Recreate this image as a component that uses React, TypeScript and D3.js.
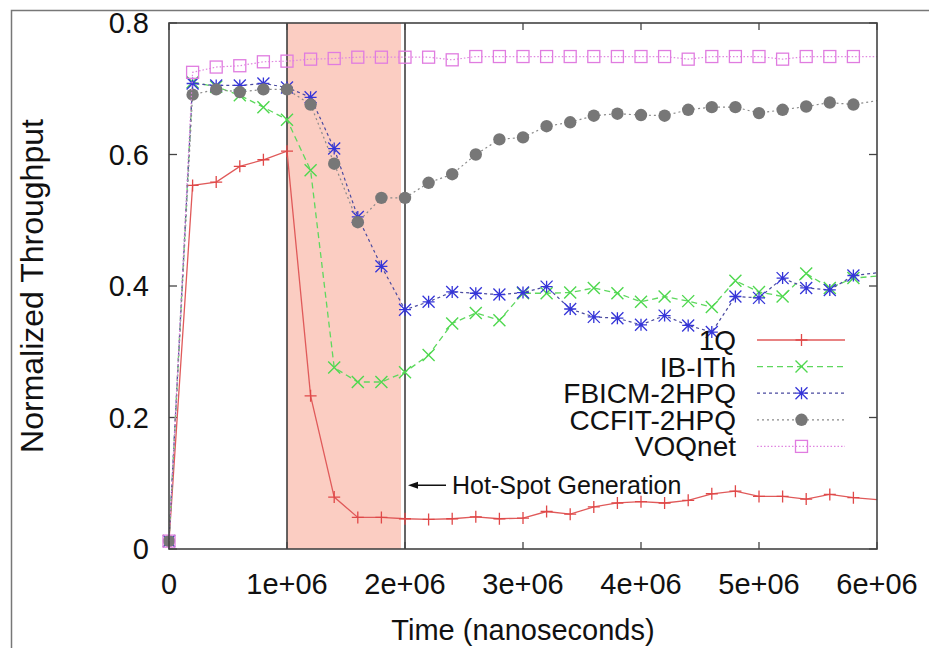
import React from 'react';
import * as d3 from 'd3';

// time axis (ns), one sample every 2e5 ns
const times = [0, 2e5, 4e5, 6e5, 8e5, 1e6, 1.2e6, 1.4e6, 1.6e6, 1.8e6, 2e6, 2.2e6, 2.4e6, 2.6e6, 2.8e6, 3e6,
  3.2e6, 3.4e6, 3.6e6, 3.8e6, 4e6, 4.2e6, 4.4e6, 4.6e6, 4.8e6, 5e6, 5.2e6, 5.4e6, 5.6e6, 5.8e6, 6e6];

const q1 = [0.012, 0.553, 0.558, 0.582, 0.592, 0.605, 0.233, 0.079, 0.048, 0.048, 0.046, 0.045, 0.046, 0.049, 0.046, 0.047,
  0.057, 0.053, 0.064, 0.070, 0.072, 0.070, 0.074, 0.084, 0.088, 0.080, 0.080, 0.076, 0.083, 0.078, 0.075];
const ibith = [0.012, 0.710, 0.703, 0.690, 0.672, 0.653, 0.576, 0.276, 0.254, 0.254, 0.269, 0.295, 0.343, 0.359, 0.348, 0.389,
  0.389, 0.390, 0.397, 0.389, 0.376, 0.384, 0.377, 0.368, 0.408, 0.391, 0.384, 0.419, 0.397, 0.412, 0.415];
const fbicm = [0.012, 0.708, 0.705, 0.705, 0.708, 0.702, 0.687, 0.609, 0.505, 0.430, 0.364, 0.376, 0.391, 0.389, 0.387, 0.390,
  0.399, 0.365, 0.353, 0.351, 0.341, 0.355, 0.340, 0.330, 0.384, 0.382, 0.412, 0.397, 0.394, 0.416, 0.420];
const ccfit = [0.012, 0.691, 0.699, 0.695, 0.699, 0.699, 0.676, 0.586, 0.497, 0.534, 0.534, 0.557, 0.570, 0.600, 0.623, 0.626,
  0.643, 0.649, 0.659, 0.662, 0.660, 0.659, 0.668, 0.672, 0.672, 0.663, 0.668, 0.673, 0.679, 0.676, 0.682];
const voqnet = [0.012, 0.725, 0.733, 0.735, 0.741, 0.742, 0.745, 0.746, 0.748, 0.748, 0.748, 0.748, 0.744, 0.749, 0.749, 0.749,
  0.749, 0.749, 0.749, 0.749, 0.749, 0.749, 0.745, 0.749, 0.749, 0.749, 0.745, 0.749, 0.749, 0.749, 0.749];

const seriesNames = ['1Q', 'IB-ITh', 'FBICM-2HPQ', 'CCFIT-2HPQ', 'VOQnet'];
const seriesValues = [q1, ibith, fbicm, ccfit, voqnet];

const xTicks = [0, 1e6, 2e6, 3e6, 4e6, 5e6, 6e6];
const xTickLabels = ['0', '1e+06', '2e+06', '3e+06', '4e+06', '5e+06', '6e+06'];
const yTicks = [0, 0.2, 0.4, 0.6, 0.8];
const yTickLabels = ['0', '0.2', '0.4', '0.6', '0.8'];

const hotSpot = [1e6, 2e6];
const annotationY = 0.097;

const styles = [
  { color: '#e05a5a', dash: null, width: 1.3, marker: 'plus', markerColor: '#e04848' },
  { color: '#5ed85e', dash: '6,4', width: 1.3, marker: 'x', markerColor: '#4fd84f' },
  { color: '#4a4aa0', dash: '3,3', width: 1.2, marker: 'star', markerColor: '#3535d8' },
  { color: '#8a8a8a', dash: '2,3', width: 1.2, marker: 'circle', markerColor: '#777777' },
  { color: '#e086e0', dash: '1.5,2', width: 1.2, marker: 'square', markerColor: '#e07ce0' },
];

const W = 929;
const H = 648;
const left = 169, right = 877, top = 23, bottom = 549;
const FONT = "'Liberation Sans', Arial, sans-serif";

function Marker({ type, x, y, color }) {
  const s = 6;
  if (type === 'plus') {
    return <path d={`M${x - s},${y}H${x + s}M${x},${y - s}V${y + s}`} stroke={color} strokeWidth={1.3} fill="none" />;
  }
  if (type === 'x') {
    return <path d={`M${x - s},${y - s}L${x + s},${y + s}M${x - s},${y + s}L${x + s},${y - s}`} stroke={color} strokeWidth={1.4} fill="none" />;
  }
  if (type === 'star') {
    return <path d={`M${x - s},${y}H${x + s}M${x},${y - s}V${y + s}M${x - s},${y - s}L${x + s},${y + s}M${x - s},${y + s}L${x + s},${y - s}`} stroke={color} strokeWidth={1.3} fill="none" />;
  }
  if (type === 'circle') {
    return <circle cx={x} cy={y} r={6.2} fill={color} />;
  }
  return <rect x={x - s} y={y - s} width={2 * s} height={2 * s} fill="none" stroke={color} strokeWidth={1.3} />;
}

export default function App() {
  const xScale = d3.scaleLinear().domain([0, 6e6]).range([left, right]);
  const yScale = d3.scaleLinear().domain([0, 0.8]).range([bottom, top]);

  const line = d3.line<number>()
    .x((_, i) => xScale(times[i]))
    .y((d) => yScale(d));

  const legendX = 736;
  const legendY0 = 340;
  const legendStep = 26.6;
  const annY = yScale(annotationY);
  const arrowHead = xScale(hotSpot[1]) + 3;

  return (
    <svg width={W} height={H} style={{ position: 'absolute', left: 0, top: 0, background: '#fff' }} fontFamily={FONT}>
      {/* outer frame */}
      <path d={`M11.5,${H}V10.5H${W}`} stroke="#777" strokeWidth={1.5} fill="none" />

      {/* hot-spot window */}
      <rect x={xScale(hotSpot[0])} y={top} width={xScale(hotSpot[1]) - xScale(hotSpot[0]) - 4} height={bottom - top} fill="#fbcdc2" />
      {hotSpot.map((t) => (
        <line key={t} x1={xScale(t)} x2={xScale(t)} y1={top} y2={bottom} stroke="#333" strokeWidth={1.5} />
      ))}

      {/* ticks (mirrored) */}
      {xTicks.map((t) => (
        <g key={'xt' + t}>
          <line x1={xScale(t)} x2={xScale(t)} y1={bottom} y2={bottom - 7} stroke="#444" strokeWidth={1.3} />
          <line x1={xScale(t)} x2={xScale(t)} y1={top} y2={top + 7} stroke="#444" strokeWidth={1.3} />
        </g>
      ))}
      {yTicks.map((t) => (
        <g key={'yt' + t}>
          <line x1={left} x2={left + 8} y1={yScale(t)} y2={yScale(t)} stroke="#444" strokeWidth={1.3} />
          <line x1={right} x2={right - 8} y1={yScale(t)} y2={yScale(t)} stroke="#444" strokeWidth={1.3} />
        </g>
      ))}

      {/* series */}
      <defs>
        <clipPath id="plotClip">
          <rect x={left} y={top} width={right - left} height={bottom - top} />
        </clipPath>
      </defs>
      <g>
        {seriesValues.map((vals, si) => {
          const st = styles[si];
          return (
            <g key={seriesNames[si]}>
              <path d={line(vals) || ''} fill="none" stroke={st.color} strokeWidth={st.width}
                strokeDasharray={st.dash || undefined} clipPath="url(#plotClip)" />
              {vals.slice(0, vals.length - 1).map((v, i) => (
                <Marker key={i} type={st.marker} x={xScale(times[i])} y={yScale(v)} color={st.markerColor} />
              ))}
            </g>
          );
        })}
      </g>

      {/* plot border */}
      <rect x={left} y={top} width={right - left} height={bottom - top} fill="none" stroke="#444" strokeWidth={1.6} />

      {/* tick labels */}
      {xTicks.map((t, i) => (
        <text key={'xl' + t} x={xScale(t)} y={594} textAnchor="middle" fontSize={29} fill="#111">{xTickLabels[i]}</text>
      ))}
      {yTicks.map((t, i) => (
        <text key={'yl' + t} x={149} y={yScale(t)} dy="0.36em" textAnchor="end" fontSize={29} fill="#111">{yTickLabels[i]}</text>
      ))}

      {/* axis titles */}
      <text x={523} y={640} textAnchor="middle" fontSize={29} fill="#111">Time (nanoseconds)</text>
      <text transform={`translate(43,286) rotate(-90)`} textAnchor="middle" fontSize={32} fill="#111">Normalized Throughput</text>

      {/* annotation */}
      <line x1={arrowHead + 4} x2={arrowHead + 38} y1={annY} y2={annY} stroke="#111" strokeWidth={1.5} />
      <path d={`M${arrowHead},${annY}L${arrowHead + 10},${annY - 3.5}L${arrowHead + 10},${annY + 3.5}Z`} fill="#111" />
      <text x={452} y={annY} dy="0.36em" fontSize={25} fill="#111">Hot-Spot Generation</text>

      {/* legend */}
      {seriesNames.map((name, i) => {
        const st = styles[i];
        const ly = legendY0 + i * legendStep;
        return (
          <g key={'lg' + name}>
            <text x={legendX} y={ly} dy="0.36em" textAnchor="end" fontSize={28} fill="#111">{name}</text>
            <line x1={757} x2={845} y1={ly} y2={ly} stroke={st.color} strokeWidth={st.width} strokeDasharray={st.dash || undefined} />
            <Marker type={st.marker} x={801.5} y={ly} color={st.markerColor} />
          </g>
        );
      })}
    </svg>
  );
}
